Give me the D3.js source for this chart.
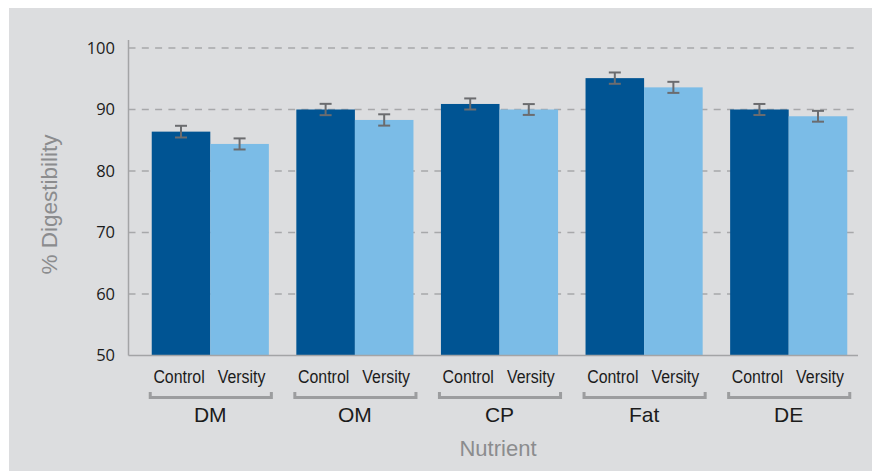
<!DOCTYPE html>
<html>
<head>
<meta charset="utf-8">
<script src="https://cdn.jsdelivr.net/npm/d3@7"></script>
<style>
  html, body { margin: 0; padding: 0; background: #ffffff; }
  svg { display: block; }
</style>
</head>
<body>
<svg id="chart" width="872" height="471"></svg>
<script>
const categories = ["DM", "OM", "CP", "Fat", "DE"];
const seriesNames = ["Control", "Versity"];
const controlValues = [86.4, 90.0, 90.9, 95.1, 90.0];
const versityValues = [84.4, 88.3, 90.0, 93.6, 88.9];
const controlErrors = [0.95, 0.92, 0.9, 0.92, 0.9];
const versityErrors = [0.9, 0.92, 0.88, 0.9, 0.88];
const yTicks = [50, 60, 70, 80, 90, 100];
const yLabel = "% Digestibility";
const xLabel = "Nutrient";

const colors = { Control: "#005493", Versity: "#7bbce7" };

const svg = d3.select("#chart");

svg.append("rect").attr("x", 9).attr("y", 8).attr("width", 863).attr("height", 463).attr("fill", "#dcdddf");

const axisLeftX = 128.5, axisRightX = 858;
const y = d3.scaleLinear().domain([50, 100]).range([355.5, 48]);
const x0 = d3.scaleBand().domain(categories).range([138, 861]).paddingInner(0.19).paddingOuter(0.095);
const x1 = d3.scaleBand().domain(seriesNames).range([0, x0.bandwidth()]);

// gridlines
svg.append("g").selectAll("line").data(yTicks.filter(t => t > 50)).join("line")
  .attr("x1", axisLeftX).attr("x2", axisRightX)
  .attr("y1", d => y(d)).attr("y2", d => y(d))
  .attr("stroke", "#a7a8aa").attr("stroke-width", 1.6)
  .attr("stroke-dasharray", "7,6.3");

// data rows
const rows = categories.map((c, i) => ({
  cat: c,
  vals: [
    { s: "Control", v: controlValues[i], e: controlErrors[i] },
    { s: "Versity", v: versityValues[i], e: versityErrors[i] }
  ]
}));

const groups = svg.append("g").selectAll("g").data(rows).join("g")
  .attr("transform", d => `translate(${x0(d.cat)},0)`);

groups.selectAll("rect").data(d => d.vals).join("rect")
  .attr("x", d => x1(d.s))
  .attr("width", x1.bandwidth())
  .attr("y", d => y(d.v))
  .attr("height", d => y(50) - y(d.v))
  .attr("fill", d => colors[d.s]);

// error bars
const eb = groups.selectAll("g.err").data(d => d.vals).join("g").attr("class", "err")
  .attr("transform", d => `translate(${x1(d.s) + x1.bandwidth() / 2},0)`);
const ebColor = "#6b6c6f";
eb.append("line").attr("x1", 0).attr("x2", 0)
  .attr("y1", d => y(d.v + d.e)).attr("y2", d => y(d.v - d.e))
  .attr("stroke", ebColor).attr("stroke-width", 2);
eb.append("line").attr("x1", -6).attr("x2", 6)
  .attr("y1", d => y(d.v + d.e)).attr("y2", d => y(d.v + d.e))
  .attr("stroke", ebColor).attr("stroke-width", 2);
eb.append("line").attr("x1", -6).attr("x2", 6)
  .attr("y1", d => y(d.v - d.e)).attr("y2", d => y(d.v - d.e))
  .attr("stroke", ebColor).attr("stroke-width", 2);

// axes lines
svg.append("line").attr("x1", axisLeftX).attr("x2", axisLeftX).attr("y1", 40).attr("y2", y(50))
  .attr("stroke", "#a3a4a6").attr("stroke-width", 1.5);
svg.append("line").attr("x1", axisLeftX).attr("x2", axisRightX).attr("y1", y(50)).attr("y2", y(50))
  .attr("stroke", "#a3a4a6").attr("stroke-width", 1.5);

// y tick labels
svg.append("g").selectAll("text").data(yTicks).join("text")
  .attr("x", 115).attr("y", d => y(d)).attr("dy", "0.35em")
  .attr("text-anchor", "end")
  .attr("font-family", "'Open Sans', 'Liberation Sans', sans-serif")
  .attr("font-size", 16.5).attr("fill", "#1b1b1b")
  .text(d => d);

// series labels under bars
groups.selectAll("text.s").data(d => d.vals).join("text").attr("class", "s")
  .attr("transform", d => `translate(${x1(d.s) + x1.bandwidth() / 2 + (d.s === "Control" ? -2 : 2)},383) scale(0.86,1)`)
  .attr("text-anchor", "middle")
  .attr("font-family", "'Liberation Sans', Arial, sans-serif")
  .attr("font-size", 18.5).attr("fill", "#1b1b1b")
  .text(d => d.s);

// brackets
groups.append("path")
  .attr("d", () => `M${-1.5},392 V397.5 H${x0.bandwidth() + 2.5} V392`)
  .attr("fill", "none").attr("stroke", "#9c9d9f").attr("stroke-width", 3);

// group labels
groups.append("text")
  .attr("x", x0.bandwidth() / 2).attr("y", 422)
  .attr("text-anchor", "middle")
  .attr("font-family", "'Liberation Sans', Arial, sans-serif")
  .attr("font-size", 21).attr("fill", "#1b1b1b")
  .text(d => d.cat);

// axis titles
svg.append("text").attr("x", 498).attr("y", 456)
  .attr("text-anchor", "middle")
  .attr("font-family", "'Liberation Sans', Arial, sans-serif")
  .attr("font-size", 22).attr("fill", "#8b8c8e")
  .text(xLabel);

svg.append("text")
  .attr("transform", "translate(57,204.5) rotate(-90)")
  .attr("text-anchor", "middle")
  .attr("font-family", "'Liberation Sans', Arial, sans-serif")
  .attr("font-size", 22.5).attr("fill", "#8b8c8e")
  .text(yLabel);
</script>
</body>
</html>
